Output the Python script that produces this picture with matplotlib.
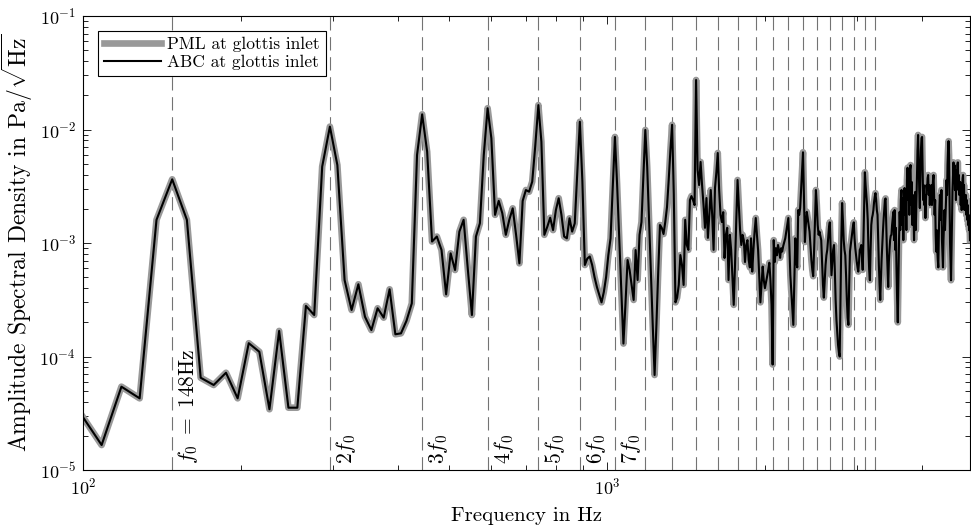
import numpy as np
import matplotlib
matplotlib.use('Agg')
import matplotlib.pyplot as plt

# LaTeX-like look
plt.rcParams['font.family'] = 'serif'
plt.rcParams['font.serif'] = ['cmr10']
plt.rcParams['mathtext.fontset'] = 'cm'
plt.rcParams['axes.formatter.use_mathtext'] = True
plt.rcParams['font.size'] = 12

# fundamental frequency and the harmonics marked with dashed lines
f0 = 148.0
harmonics = list(range(1, 23))
harmonic_labels = [r'$f_0\ =\ 148$Hz', r'$2f_0$', r'$3f_0$', r'$4f_0$',
                   r'$5f_0$', r'$6f_0$', r'$7f_0$']

# spectrum bins: df = f0/15, first bin k0 = 10
df = f0 / 15.0
k0 = 10

# amplitude spectral density, in 1e-3 Pa/sqrt(Hz)
asd_pml_milli = [
    0.032, 0.0166, 0.0542, 0.0428, 1.60,
    3.64, 1.60, 0.065, 0.0561, 0.0719, 0.0428, 0.131, 0.110, 0.0343, 0.168, 0.0354, 0.0354, 0.279, 0.232, 4.71,
    10.6, 4.86, 0.472, 0.257, 0.433, 0.224, 0.171, 0.266, 0.220, 0.391, 0.157, 0.160, 0.206, 0.294, 5.96,
    13.6, 6.37, 1.03, 1.14, 0.868, 0.353, 0.811, 0.578, 1.26, 1.60, 0.59, 0.232, 1.14, 1.49, 5.96,
    15.4, 8.36, 1.77, 2.35, 1.83, 1.18, 1.60, 2.02, 1.18, 0.662, 2.35, 2.93, 2.83, 3.47, 7.29,
    16.4, 7.81, 1.18, 1.39, 1.67, 1.30, 1.95, 2.48, 1.77, 1.14, 1.10, 1.65, 1.26, 1.49, 4.25,
    11.7, 3.5, 0.64, 0.73, 0.76, 0.64, 0.50, 0.41, 0.35, 0.30, 0.37, 0.50, 0.78, 1.10, 3.05,
    8.6, 3.31, 1.09, 0.378, 0.130, 0.296, 0.708, 0.578, 0.427, 0.315, 0.867, 0.472, 1.18, 1.53, 3.97,
    9.91, 4.68, 1.56, 0.523, 0.186, 0.0687, 0.190, 0.555, 1.44, 1.36, 1.20, 1.53, 2.07, 3.59, 6.59,
    11.0, 2.70, 0.30, 0.33, 0.427, 0.783, 0.640, 0.427, 1.60, 0.96, 0.87, 2.39, 2.59, 2.39, 2.16,
    27.3, 4.40, 3.24, 5.18, 3.24, 2.16, 1.36, 2.49, 1.11, 1.77, 2.93, 1.77, 0.87, 3.05, 4.2,
    6.21, 2.93, 1.77, 1.53, 1.87, 0.738, 1.18, 1.36, 0.472, 1.18, 0.87, 0.50, 0.285, 0.64, 1.60,
    3.59, 2.16, 1.30, 0.96, 1.18, 1.06, 0.68, 0.96, 1.06, 0.71, 0.61, 1.10, 0.56, 0.87, 1.26,
    1.66, 1.18, 0.87, 0.52, 0.30, 0.43, 0.62, 0.47, 0.40, 0.45, 0.51, 0.58, 0.67, 0.47, 0.285,
    0.085, 1.06, 0.68, 0.90, 0.78, 0.96, 0.87, 0.74, 0.90, 0.84, 0.94, 1.02, 1.10, 1.26, 1.44,
    1.66, 0.96, 0.52, 0.37, 0.257, 0.190, 0.47, 1.10, 0.68, 0.61, 1.95, 1.77, 2.03, 2.93, 4.39,
    6.3, 2.39, 1.02, 1.44, 1.88, 1.66, 1.44, 1.26, 0.96, 0.71, 0.58, 0.51, 0.87, 1.60, 2.93,
    2.16, 1.44, 1.18, 1.26, 1.16, 1.06, 0.68, 0.43, 0.33, 0.47, 0.64, 0.78, 0.87, 1.10, 1.36,
    1.52, 0.87, 0.52, 0.68, 0.87, 0.96, 0.58, 0.315, 0.210, 0.165, 0.126, 0.109, 0.10, 0.315, 1.06,
    2.25, 1.60, 1.06, 0.87, 0.78, 0.52, 0.315, 0.22, 0.190, 0.43, 0.84, 0.96, 1.10, 1.26, 1.41,
    1.52, 1.10, 0.90, 0.78, 0.68, 0.61, 0.56, 0.68, 0.87, 0.90, 0.96, 0.74, 0.58, 1.06, 2.16,
    4.2, 3.24, 2.65, 2.16, 1.60, 0.87, 0.58, 0.47, 0.87, 1.44, 1.66, 1.77, 1.95, 2.30, 2.55,
    2.75, 2.39, 1.95, 1.77, 1.06, 0.64, 0.43, 0.315, 0.47, 0.71, 0.96, 1.26, 1.60, 1.95, 2.39,
    2.47, 1.44, 0.87, 0.58, 0.41, 0.68, 0.87, 1.06, 1.16, 1.18, 1.44, 1.66, 1.88, 1.06, 1.95,
    0.87, 1.36, 0.58, 0.315, 0.20, 0.47, 1.06, 1.88, 1.30, 2.39, 2.93, 1.44, 2.47, 1.06, 2.16,
    3.05, 1.77, 2.65, 1.30, 3.59, 4.6, 2.39, 3.97, 1.77, 4.39, 4.86, 2.16, 3.45, 1.44, 2.65,
    1.95, 1.06, 2.39, 2.82, 1.30, 2.16, 3.97, 6.59, 8.95, 5.38, 2.93, 2.03, 3.59, 6.59, 8.4,
    8.6, 4.39, 2.39, 3.24, 2.16, 2.65, 1.66, 2.39, 3.24, 2.93, 3.73, 3.97, 2.65, 3.24, 2.16,
    2.93, 2.39, 3.24, 2.16, 2.93, 3.59, 3.97, 2.65, 1.77, 2.39, 1.18, 0.84, 1.30, 0.87, 0.71,
    0.61, 1.18, 1.95, 2.65, 2.39, 1.60, 2.93, 1.06, 0.78, 0.61, 1.06, 1.44, 1.95, 1.30, 1.77,
    2.39, 3.59, 2.65, 4.86, 6.59, 7.9, 5.96, 2.39, 1.02, 0.71, 0.47, 0.87, 1.77, 2.93, 3.97,
    5.13, 3.59, 4.86, 2.93, 4.39, 2.39, 3.97, 3.24, 4.86, 5.13, 2.93, 3.97, 2.65, 3.24, 3.45,
    2.16, 3.24, 1.95, 2.93, 3.73, 3.97, 2.39, 3.24, 1.95, 2.65, 2.16, 2.65, 1.77, 2.39, 1.60,
    2.16, 1.44, 1.77, 1.30, 1.60, 1.06,
]
# both boundary conditions give the same curve at the glottis inlet
asd_abc_milli = list(asd_pml_milli)

freq = (k0 + np.arange(len(asd_pml_milli))) * df
asd_pml = np.array(asd_pml_milli) * 1e-3
asd_abc = np.array(asd_abc_milli) * 1e-3

fig = plt.figure(figsize=(9.71, 5.28), dpi=100)
ax = fig.add_axes([83 / 971, 58 / 528, 887 / 971, 454 / 528])

for n in harmonics:
    ax.axvline(n * f0, color='0.45', lw=0.8, ls=(0, (12, 6)), zorder=1)

ax.plot(freq, asd_pml, color='0.6', lw=4.8, solid_joinstyle='round',
        label='PML at glottis inlet', zorder=2)
ax.plot(freq, asd_abc, color='k', lw=1.5, label='ABC at glottis inlet', zorder=3)

for n, lbl in enumerate(harmonic_labels, start=1):
    ax.annotate(lbl, xy=(n * f0, 1e-5), xytext=(3, 4), textcoords='offset points',
                rotation=90, ha='left', va='bottom', fontsize=15.5)

ax.set_xscale('log')
ax.set_yscale('log')
ax.set_xlim(100, freq[-1])
ax.set_ylim(1e-5, 1e-1)
ax.xaxis.set_minor_formatter(matplotlib.ticker.NullFormatter())
ax.tick_params(which='both', direction='in', top=True, right=True, width=0.6,
               labelsize=13)
ax.tick_params(which='major', length=6, pad=5)
ax.tick_params(which='minor', length=3.5)
for s in ax.spines.values():
    s.set_linewidth(0.8)

ax.set_xlabel('Frequency in Hz', fontsize=15, labelpad=7)
ax.set_ylabel(r'Amplitude Spectral Density in Pa$/\sqrt{\mathrm{Hz}}$', fontsize=17, labelpad=3)

leg = ax.legend(loc='upper left', fontsize=12.5, fancybox=False, framealpha=1,
                edgecolor='k', handlelength=3.3, handletextpad=0.35,
                labelspacing=0.15, borderpad=0.35, borderaxespad=0.85)
leg.get_frame().set_linewidth(0.8)

fig.savefig('out.png', dpi=100)
